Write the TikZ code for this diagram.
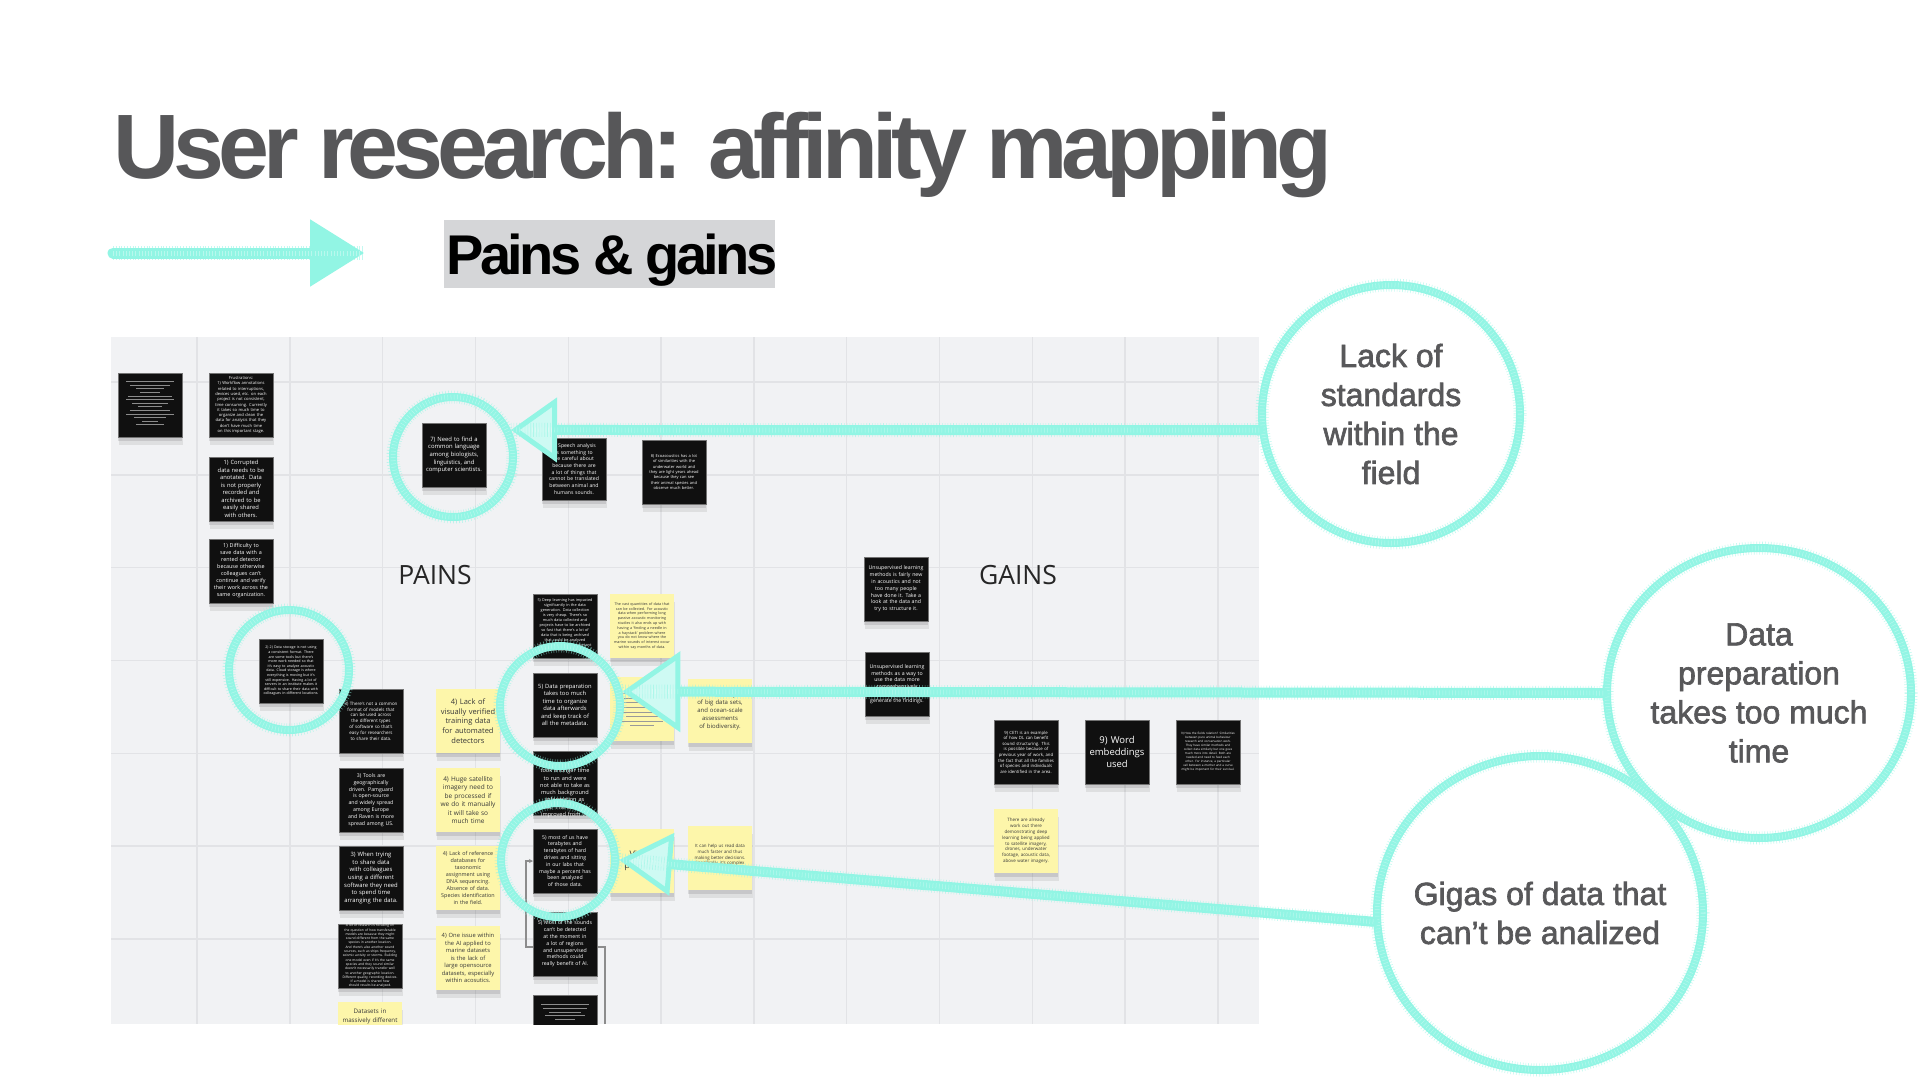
\documentclass[tikz,border=0pt]{standalone}
\usepackage{fontspec}
\setmainfont{Liberation Sans}
\newfontfamily\headfont[LetterSpace=-6.5]{Liberation Sans}
\newfontfamily\circfont[FakeBold=2]{Liberation Sans}
\newfontfamily\notefont{Open Sans}
\usetikzlibrary{arrows.meta,shapes.geometric,shadows,calc}
\hyphenpenalty=10000
\exhyphenpenalty=10000

\definecolor{chalkc}{HTML}{92F5E4}
\definecolor{boardbg}{HTML}{F1F2F4}
\definecolor{gridc}{HTML}{E2E3E6}
\definecolor{titlec}{HTML}{575759}
\definecolor{boxgray}{HTML}{D5D6D8}
\definecolor{stickyy}{HTML}{FDF6AA}
\definecolor{notebk}{HTML}{101010}
\definecolor{circgray}{HTML}{58585A}
\definecolor{boardtext}{HTML}{262626}

\tikzset{
  fs/.style args={#1/#2}{font=\notefont\fontsize{#1}{#2}\selectfont},
  bnote/.style={rectangle, fill=notebk, draw=black!55, line width=0.4pt,
    minimum width=64pt, minimum height=64pt, inner sep=0pt,
    text width=56pt, align=center, text=white,
    drop shadow={fill=black, opacity=0.10, shadow xshift=0pt, shadow yshift=-4pt},
    drop shadow={fill=black, opacity=0.08, shadow xshift=1pt, shadow yshift=-8pt}},
  ynote/.style={bnote, fill=stickyy, draw=none, text=black!78},
  notetext/.style={inner sep=0pt, text width=56pt, align=center, anchor=north},
  gridline/.style={draw=gridc, line width=1.4pt},
  linkline/.style={draw=black!45, line width=1.1pt},
  rulewhite/.style={draw=white!55!black, line width=0.5pt},
  ruledark/.style={draw=black!40, line width=0.5pt},
  boardlabel/.style={font=\notefont\fontsize{26.5}{30}\selectfont, text=boardtext, inner sep=0pt, anchor=base},
  chalkring/.style={draw=chalkc, line width=8pt, fill=none, inner sep=0pt,
    postaction={draw=chalkc, line width=13pt, line cap=butt, dash pattern=on 0.6pt off 2.2pt, opacity=0.55},
    postaction={draw=white, line width=5pt, line cap=butt, dash pattern=on 0.5pt off 2.7pt, opacity=0.35}},
  chalkline/.style={draw=chalkc, line width=10pt, line cap=round,
    postaction={-, draw=chalkc, line width=14pt, line cap=butt, dash pattern=on 0.6pt off 2.2pt, opacity=0.55},
    postaction={-, draw=white, line width=5pt, line cap=butt, dash pattern=on 0.5pt off 2.7pt, opacity=0.35}},
  circtext/.style={font=\circfont\fontsize{32}{39}\selectfont, text=circgray, align=center, inner sep=0pt},
}

\begin{document}
\begin{tikzpicture}[x=1pt,y=-1pt]
\useasboundingbox (0,0) rectangle (1920,1080);
\fill[white] (0,0) rectangle (1920,1080);

% heading
\node[anchor=base west, inner sep=0pt, text=titlec,
      font=\headfont\bfseries\fontsize{91.5}{100}\selectfont] (title) at (113,178) {User research: affinity mapping};

% pointer arrow and section tag
\coordinate (arrowtail) at (113,253);
\coordinate (arrowtip) at (364,253);
\draw[chalkline, line width=11pt, -{Triangle[length=54pt,width=67pt,fill=chalkc,line width=2pt]}] (arrowtail) -- (arrowtip);
\node[fill=boxgray, minimum width=331pt, minimum height=68pt, inner sep=0pt] (tagbox) at (609.5,254) {};
\node[anchor=base, inner sep=0pt, font=\headfont\bfseries\fontsize{56}{60}\selectfont] (tagtext) at (612,274) {Pains \& gains};

% board
\fill[boardbg] (111,337) rectangle (1259,1024);
\begin{scope}
\clip (111,337) rectangle (1259,1024);
\foreach \gx in {0,...,11} \draw[gridline] (197+\gx*92.8,337) -- (197+\gx*92.8,1024);
\foreach \gy in {0,...,6} \draw[gridline] (111,382+\gy*92.8) -- (1259,382+\gy*92.8);

% link running behind the notes
\coordinate (linkfoot) at (605,1024);
\coordinate (bendA) at (605,947);
\coordinate (bendB) at (526,947);

% left column
\node[bnote] (n1) at (150,405) {};
\foreach \w [count=\i] in {24,20,14,10,22,24,18,12,20,24,16,8,14}
  \draw[rulewhite] ($(n1.north)+(-\w,5+\i*3.6)$) -- ++(2*\w,0);
\node[bnote, fs=4.1/5.3] (n2) at (241,405) {Frustrations:\\1) Workflow annotations related to interruptions, devices used, etc. on each project is not consistent, time consuming. Currently it takes so much time to organize and clean the data for analysis that they don’t have much time on this important stage.};
\node[bnote, fs=5.8/7.5] (n3) at (241,489) {1) Corrupted data needs to be anotated. Data is not properly recorded and archived to be easily shared with others.};
\node[bnote, fs=5.4/7] (n4) at (241,571) {1) Difficulty to save data with a rented detector because otherwise colleagues can’t continue and verify their work across the same organization.};
\node[bnote, fs=3.6/4.6] (n8) at (291,671) {2) 2) Data storage is not using a consistent format. There are some tools but there’s more work needed so that it’s easy to analyze acoustic data. Cloud storage is where everything is moving but it’s still expensive. Having a lot of servers in an institute makes it difficult to share their data with colleagues in different locations.};

\node[boardlabel] (pains) at (435,584) {PAINS};

\node[bnote, fs=5.9/7.7] (n5) at (454,455) {7) Need to find a common language among biologists, linguistics, and computer scientists.};
\node[bnote, fs=5.1/6.7, minimum height=62pt] (n6) at (574,469) {6) Speech analysis is something to be careful about because there are a lot of things that cannot be translated between animal and humans sounds.};
\node[bnote, fs=4/5.3] (n7) at (674,472) {8) Ecoacoustics has a lot of similarities with the underwater world and they are light years ahead because they can see their animal species and observe much better.};

% third and fourth columns
\node[bnote, fs=4.5/5.8] (n9) at (371,721) {3) There’s not a common format of models that can be used across the different types of software so that’s easy for researchers to share their data.};
\node[ynote, fs=7.5/9.7] (y1) at (468,721) {4) Lack of visually verified training data for automated detectors};
\node[bnote, fs=5.2/6.8] (n10) at (371,800) {3) Tools are geographically driven. Pamguard is open-source and widely spread among Europe and Raven is more spread among US.};
\node[ynote, fs=6.5/8.5] (y2) at (468,800) {4) Huge satellite imagery need to be processed if we do it manually it will take so much time};
\node[bnote, fs=5.9/7.7] (n11) at (371,878) {3) When trying to share data with colleagues using a different software they need to spend time arranging the data.};
\node[ynote, fs=5.4/7.1] (y3) at (468,878) {4) Lack of reference databases for taxonomic assignment using DNA sequencing. Absence of data. Species identification in the field.};
\node[bnote, fs=3.3/4.3] (n12) at (370,956) {A lot of research is focusing on the question of how transferable models are because they might sound different from the same species in another location. And there’s also another sound sources, such as ships frequency, seismic activity or storms. Building one model even if it’s the same species and they sound similar doesn’t necessarily transfer well to another geographic location. Different quality, recording devices.\\If a model is shared how should results be analysed.};
\node[ynote, fs=5.8/7.5] (y4) at (468,958) {4) One issue within the AI applied to marine datasets is the lack of large opensource datasets, especially within acosutics.};
\node[ynote] (y5) at (370,1034) {};
\node[notetext, fs=6.2/8.4, text=black!78, text width=62pt] (y5t) at (370,1009) {Datasets in\\massively different};

% fifth column
\draw[linkline, -{Stealth[length=4pt,width=4pt]}] (linkfoot) -- (bendA) -- (bendB) |- (533,861);
\node[bnote] (n16) at (565,626) {};
\node[notetext, fs=3.8/5, text=white] (n16t) at (565,598) {5) Deep learning has impacted significantly in the data generation. Data collection is very cheap. There’s so much data collected and projects have to be archived so fast that there’s a lot of data that is being archived that could be analyzed somehow. It’s very important to collect the data and now};
\node[bnote, fs=5.8/7.5] (n17) at (565,705) {5) Data preparation takes too much time to organize data afterwards and keep track of all the metadata.};
\node[bnote] (n18) at (565,783) {};
\node[notetext, fs=5.6/7.3, text=white] (n18t) at (565,761) {were simpler but took a longer time to run and were not able to take as much background information as now. The accuracy improved from 70};
\node[bnote, fs=5.2/6.8] (n13) at (565,861) {5) most of us have terabytes and terabytes of hard drives and sitting in our labs that maybe a percent has been analyzed of those data.};
\node[bnote, fs=5.2/6.8] (n14) at (565,944) {5) Most of the sounds can’t be detected at the moment in a lot of regions and unsupervised methods could really benefit of AI.};
\node[bnote] (n15) at (565,1027) {};
\foreach \w [count=\i] in {24,22,16,20,10}
  \draw[rulewhite] ($(n15.north)+(-\w,6+\i*3.7)$) -- ++(2*\w,0);

% sixth and seventh columns
\node[ynote, fs=3.7/4.8] (y6) at (642,626) {The vast quantities of data that can be collected. For acoustic data when performing long passive acoustic monitoring studies it also ends up with having a ‘finding a needle in a haystack’ problem where you do not know where the marine sounds of interest occur within say months of data.};
\node[ynote] (y7) at (642,709) {};
\foreach \w [count=\i] in {22,18,24,20,23,16,21,12}
  \draw[ruledark] ($(y7.north)+(-\w,12+\i*4.6)$) -- ++(2*\w,0);
\node[ynote, fs=6/7.8] (y8) at (720,711) {efficient analysis of big data sets, and ocean-scale assessments of biodiversity.};
\node[ynote, fs=9/11] (y9) at (642,861) {Visual patterns};
\node[ynote, fs=4.4/5.7] (y10) at (720,858) {It can help us read data much faster and thus making better decisions. Specifically, it’s complex and it’s daunting to learn.};

% gains side
\node[bnote, fs=5.2/6.8] (n19) at (896,589) {Unsupervised learning methods is fairly new in acoustics and not too many people have done it. Take a look at the data and try to structure it.};
\node[bnote, fs=5.2/6.8] (n20) at (897,684) {Unsupervised learning methods as a way to use the data more comprehensively and to automatically generate the findings.};
\node[boardlabel] (gains) at (1018,584) {GAINS};
\node[bnote, fs=4.3/5.6] (n21) at (1026,752) {9) CETI is an example of how DL can benefit sound structuring. This is possible because of previous year of work, and the fact that all the families of species and individuals are identified in the area.};
\node[bnote, fs=9.5/12.3] (n22) at (1117,752) {9) Word embeddings used};
\node[bnote, fs=3/4] (n23) at (1208,752) {9) How the fields relation? Similarities between pure animal behaviour research and conservation work. They have similar methods and collect data similarly but one goes much more into detail. Both are needed and need to feed each other. For instance, a particular call between a mother and a curve might be important for their survival.};
\node[ynote, fs=4.5/5.8] (y11) at (1026,841) {There are already work out there demonstrating deep learning being applied to satellite imagery, drones, underwater footage, acoustic data, above water imagery.};
\end{scope}

% chalk rings on the board
\node[chalkring, circle, minimum size=120pt] (ringA) at (453,457) {};
\node[chalkring, circle, minimum size=120pt] (ringD) at (289,670) {};
\node[chalkring, circle, minimum size=120pt] (ringB) at (560,706) {};
\node[chalkring, circle, minimum size=114pt] (ringC) at (558,860) {};

% insight bubbles
\node[chalkring, circle, minimum size=258pt] (lackC) at (1391,414) {};
\node[circtext] (lackT) at (1391,414) {Lack of\\standards\\within the\\field};
\node[chalkring, ellipse, minimum width=304pt, minimum height=290pt] (prepC) at (1759,693) {};
\node[circtext] (prepT) at (1759,693) {Data\\preparation\\takes too much\\time};
\node[chalkring, ellipse, minimum width=326pt, minimum height=314pt] (gigaC) at (1540,913) {};
\node[circtext] (gigaT) at (1540,913) {Gigas of data that\\can’t be analized};

% arrows from bubbles to the circled notes
\draw[chalkline, -{Triangle[length=46pt,width=64pt,fill=chalkc!45!white,line width=5pt]}] (lackC.187) -- (ringA.25);
\draw[chalkline, -{Triangle[length=58pt,width=80pt,fill=chalkc!45!white,line width=5pt]}] (prepC.west) -- (ringB.13);
\draw[chalkline, -{Triangle[length=53pt,width=62pt,fill=chalkc!45!white,line width=5pt]}] (gigaC.183) -- (ringC.east);
\end{tikzpicture}
\end{document}
